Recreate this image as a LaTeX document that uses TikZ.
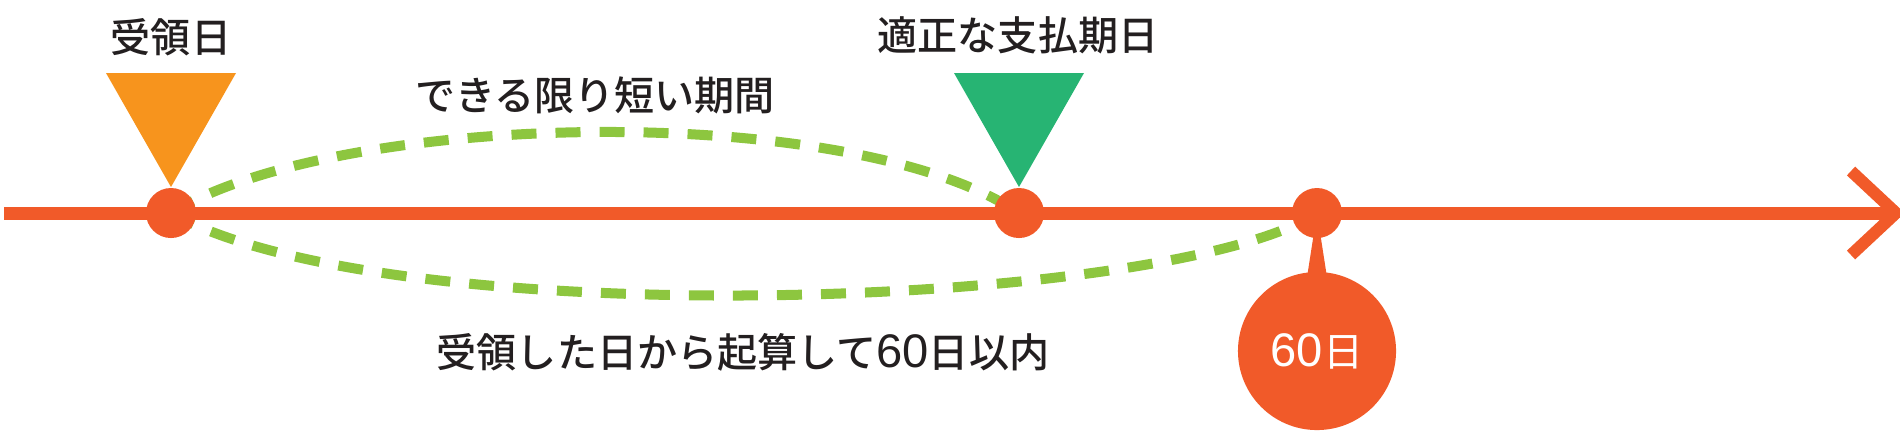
\documentclass[tikz,border=0pt]{standalone}
\usepackage{fontspec}
\setmainfont{Noto Sans CJK JP}[BoldFont={Noto Sans CJK JP Medium}]
\newfontfamily\digitfont{Liberation Sans}
\newcommand\num[1]{{\digitfont\mdseries\fontsize{13.4}{14}\selectfont #1}}
\usetikzlibrary{calc}
\definecolor{lineorange}{HTML}{F15A29}
\definecolor{recvorange}{HTML}{F7941D}
\definecolor{duegreen}{HTML}{27B473}
\definecolor{spangreen}{HTML}{8DC63F}
\definecolor{txt}{HTML}{231F20}
\tikzset{
  dot/.style={circle,fill=lineorange,inner sep=0,minimum size=.5cm},
  lbl/.style={inner sep=0,text=txt,font=\fontsize{11.4}{13}\selectfont\bfseries},
  span/.style={spangreen,line width=.1cm,dash pattern=on .25cm off .19cm},
}
\begin{document}
\begin{tikzpicture}[x=.01cm,y=-.01cm]
\useasboundingbox (0,0) rectangle (1900,435);
% time line
\coordinate (start) at (4,213);
\coordinate (tip) at (1896,213);
\draw[lineorange,line width=.13cm](start)--(tip);
\draw[lineorange,line width=.12cm,miter limit=4](tip)++(-45,-42)--(tip)--++(-45,42);
% dotted spans
\coordinate (d1) at (171,213);
\coordinate (d2) at (1019,213);
\coordinate (d3) at (1317,213);
\draw[span](d1) .. controls (340,110) and (850,100) .. (d2);
\draw[span](d1) .. controls (380,330) and (1100,312) .. ($(d3)+(-22,12)$);
% markers
\fill[recvorange](d1)++(0,-26)--++(-65,-114)--++(130,0)--cycle;
\fill[duegreen](d2)++(0,-26)--++(-65,-114)--++(130,0)--cycle;
\node[dot](p1) at (d1){};
\node[dot](p2) at (d2){};
\node[dot](p3) at (d3){};
\node[circle,fill=lineorange,inner sep=0,minimum size=1.58cm,text=white,font=\fontsize{11.4}{13}\selectfont](days) at (1317,351){\num{60}日};
\fill[lineorange](p3.center)--($(days.north)+(-10,6)$)--($(days.north)+(10,6)$)--cycle;
% labels
\node[lbl](recv) at (171,37){受領日};
\node[lbl](due) at (1018,35){適正な支払期日};
\node[lbl](short) at (595,95){できる限り短い期間};
\node[lbl](limit) at (743,352){受領した日から起算して\num{60}日以内};
\end{tikzpicture}
\end{document}
